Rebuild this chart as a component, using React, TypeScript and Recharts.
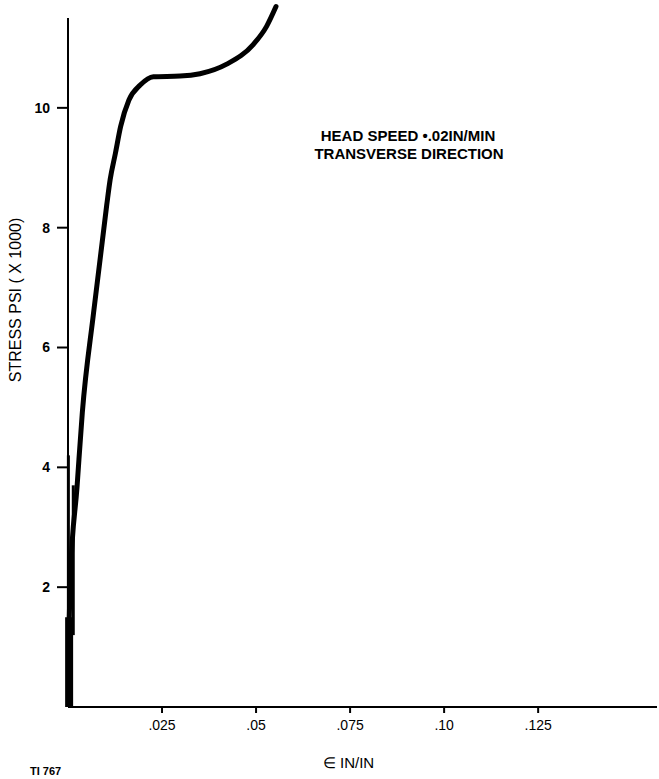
import React from 'react';
import { LineChart, Line, XAxis, YAxis, ReferenceLine } from 'recharts';

// stress-strain curve
const strain = [0.0003, 0.0006, 0.0024, 0.0038, 0.0068, 0.0103, 0.0112, 0.0126, 0.014, 0.0162, 0.0192, 0.0227, 0.0298, 0.0351, 0.0422, 0.0493, 0.0528, 0.0553];
const stress = [1.4, 2.12, 3.67, 4.91, 6.58, 8.38, 8.8, 9.24, 9.69, 10.13, 10.38, 10.52, 10.53, 10.57, 10.73, 11.06, 11.36, 11.69];

// recorder marks near the origin
const markAStrain = [0.0001, 0.0001];
const markAStress = [0, 4.2];
const markBStrain = [0.0014, 0.0014];
const markBStress = [1.2, 3.7];
const markCStrain = [0.0003, 0.0003];
const markCStress = [0, 1.5];

const xTicks = [0.025, 0.05, 0.075, 0.1, 0.125];
const xTickLabels = ['.025', '.05', '.075', '.10', '.125'];
const yTicks = [2, 4, 6, 8, 10];

const toRows = (xs: number[], ys: number[]) => xs.map((x, i) => ({ x, y: ys[i] }));

const curve = toRows(strain, stress);
const markA = toRows(markAStrain, markAStress);
const markB = toRows(markBStrain, markBStress);
const markC = toRows(markCStrain, markCStress);

const font = '"Liberation Sans", Arial, sans-serif';

export default function App() {
  return (
    <div style={{ position: 'absolute', left: 0, top: 0, background: '#fff', fontFamily: font }}>
      <LineChart width={659} height={779} margin={{ top: 6, right: 2, bottom: 0, left: 0 }}>
        <XAxis
          type="number"
          dataKey="x"
          domain={[0, 0.1566]}
          ticks={xTicks}
          tickFormatter={(v: number) => xTickLabels[xTicks.indexOf(v)] ?? ''}
          height={72}
          tickSize={6}
          tickMargin={7}
          axisLine={{ stroke: '#000', strokeWidth: 2 }}
          tickLine={{ stroke: '#000', strokeWidth: 2 }}
          tick={{ fill: '#000', fontSize: 14, fontFamily: font }}
          label={{ value: '∈ IN/IN', position: 'insideBottom', offset: 11, dx: -14, fill: '#000', fontSize: 15, fontFamily: font }}
        />
        <YAxis
          type="number"
          dataKey="y"
          domain={[0, 11.7]}
          ticks={yTicks}
          width={68}
          tickSize={11}
          tickMargin={7}
          axisLine={false}
          tickLine={{ stroke: '#000', strokeWidth: 2 }}
          tick={{ fill: '#000', fontSize: 14, fontWeight: 'bold', fontFamily: font }}
        />
        <ReferenceLine
          segment={[{ x: 0, y: 0 }, { x: 0, y: 11.5 }]}
          stroke="#000"
          strokeWidth={2}
          ifOverflow="visible"
        />
        <Line data={markA} dataKey="y" stroke="#000" strokeWidth={3} dot={false} isAnimationActive={false} />
        <Line data={markB} dataKey="y" stroke="#000" strokeWidth={3} dot={false} isAnimationActive={false} />
        <Line data={markC} dataKey="y" stroke="#000" strokeWidth={8} dot={false} isAnimationActive={false} />
        <Line
          data={curve}
          dataKey="y"
          type="monotone"
          stroke="#000"
          strokeWidth={5}
          strokeLinecap="round"
          dot={false}
          isAnimationActive={false}
        />
        <text x={15} y={300} transform="rotate(-90, 15, 300)" textAnchor="middle" dominantBaseline="central" fontSize={16} fontFamily={font} fill="#000">
          STRESS PSI ( X 1000)
        </text>
        <text x={408} y={135} textAnchor="middle" dominantBaseline="central" fontSize={15} fontWeight="bold" fontFamily={font} fill="#000">
          HEAD SPEED •.02IN/MIN
        </text>
        <text x={409} y={153} textAnchor="middle" dominantBaseline="central" fontSize={15} fontWeight="bold" fontFamily={font} fill="#000">
          TRANSVERSE DIRECTION
        </text>
        <text x={30} y={775} fontSize={11} fontWeight="bold" fontFamily={font} fill="#000">
          TI 767
        </text>
      </LineChart>
    </div>
  );
}
